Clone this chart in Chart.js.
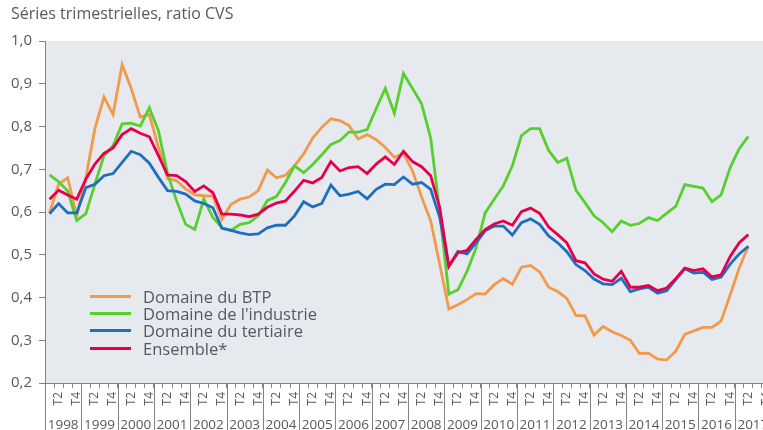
<!DOCTYPE html>
<html>
<head>
<meta charset="utf-8">
<script src="https://cdn.jsdelivr.net/npm/chart.js@4/dist/chart.umd.min.js"></script>
<style>
  html, body { margin: 0; padding: 0; background: #fff; overflow: hidden; }
  #wrap { position: relative; width: 763px; height: 430px; overflow: hidden; }
  #legend { position: absolute; left: 90px; top: 288px; font: 16.5px 'Open Sans', sans-serif; color: #555a60; }
  #legend .row { display: flex; align-items: center; height: 17.2px; }
  #legend .sw { width: 41px; height: 3px; margin-right: 12px; }
</style>
</head>
<body>
<div id="wrap">
  <canvas id="chart" width="771" height="430"></canvas>
  <div id="legend"></div>
</div>
<script>
const years = ['1998', '1999', '2000', '2001', '2002', '2003', '2004', '2005', '2006', '2007',
  '2008', '2009', '2010', '2011', '2012', '2013', '2014', '2015', '2016', '2017'];
const quarters = ['T1', 'T2', 'T3', 'T4'];

// 1998 T1 -> 2017 T2
const btp = [0.598, 0.665, 0.680, 0.590, 0.680, 0.795, 0.869, 0.828, 0.945, 0.889,
  0.822, 0.828, 0.751, 0.678, 0.673, 0.654, 0.640, 0.638, 0.637, 0.583,
  0.618, 0.630, 0.635, 0.650, 0.698, 0.680, 0.686, 0.708, 0.736, 0.773,
  0.798, 0.818, 0.814, 0.802, 0.771, 0.781, 0.769, 0.751, 0.728, 0.737,
  0.696, 0.635, 0.579, 0.477, 0.373, 0.383, 0.395, 0.409, 0.408, 0.430,
  0.444, 0.431, 0.471, 0.475, 0.460, 0.424, 0.414, 0.398, 0.358, 0.357,
  0.312, 0.332, 0.320, 0.311, 0.300, 0.269, 0.270, 0.256, 0.254, 0.274,
  0.314, 0.322, 0.330, 0.330, 0.345, 0.406, 0.469, 0.520];
const industrie = [0.687, 0.671, 0.649, 0.580, 0.596, 0.665, 0.732, 0.755, 0.806, 0.808,
  0.801, 0.844, 0.790, 0.690, 0.626, 0.571, 0.559, 0.630, 0.587, 0.563,
  0.557, 0.571, 0.575, 0.591, 0.627, 0.636, 0.669, 0.708, 0.692, 0.711,
  0.734, 0.758, 0.767, 0.787, 0.787, 0.793, 0.842, 0.889, 0.831, 0.924,
  0.889, 0.853, 0.773, 0.600, 0.408, 0.418, 0.461, 0.516, 0.598, 0.630,
  0.661, 0.708, 0.779, 0.795, 0.795, 0.744, 0.716, 0.726, 0.651, 0.622,
  0.591, 0.575, 0.554, 0.579, 0.569, 0.573, 0.587, 0.580, 0.597, 0.613,
  0.664, 0.660, 0.656, 0.624, 0.640, 0.704, 0.748, 0.777];
const tertiaire = [0.596, 0.620, 0.598, 0.598, 0.657, 0.665, 0.685, 0.690, 0.716, 0.742,
  0.734, 0.714, 0.681, 0.650, 0.648, 0.642, 0.626, 0.620, 0.610, 0.562,
  0.557, 0.551, 0.547, 0.549, 0.563, 0.569, 0.569, 0.591, 0.624, 0.612,
  0.620, 0.663, 0.638, 0.642, 0.648, 0.631, 0.653, 0.665, 0.664, 0.682,
  0.665, 0.669, 0.653, 0.587, 0.473, 0.508, 0.502, 0.528, 0.556, 0.567,
  0.567, 0.546, 0.575, 0.584, 0.571, 0.544, 0.528, 0.507, 0.477, 0.463,
  0.443, 0.432, 0.430, 0.445, 0.414, 0.420, 0.424, 0.410, 0.416, 0.442,
  0.467, 0.457, 0.459, 0.442, 0.448, 0.478, 0.502, 0.520];
const ensemble = [0.630, 0.651, 0.640, 0.630, 0.677, 0.712, 0.737, 0.750, 0.781, 0.795,
  0.784, 0.776, 0.732, 0.687, 0.685, 0.671, 0.648, 0.661, 0.645, 0.595,
  0.595, 0.593, 0.589, 0.595, 0.611, 0.621, 0.626, 0.649, 0.674, 0.668,
  0.681, 0.718, 0.696, 0.704, 0.706, 0.690, 0.712, 0.729, 0.711, 0.742,
  0.718, 0.706, 0.685, 0.610, 0.473, 0.505, 0.510, 0.536, 0.559, 0.572,
  0.579, 0.569, 0.601, 0.609, 0.597, 0.565, 0.547, 0.528, 0.486, 0.481,
  0.455, 0.443, 0.438, 0.461, 0.424, 0.424, 0.428, 0.416, 0.422, 0.444,
  0.469, 0.463, 0.467, 0.448, 0.453, 0.496, 0.528, 0.547];

const yTicks = [0.2, 0.3, 0.4, 0.5, 0.6, 0.7, 0.8, 0.9, 1.0];

const labels = years.flatMap(y => quarters.map(q => y + ' ' + q));
const axisColor = '#7d838a';
const textColor = '#555a60';
const font = 'Open Sans';

// fond gris de la zone de tracé + séparateurs des années sous l'axe
const plotFrame = {
    id: 'plotFrame',
    beforeDraw(chart) {
        const { ctx, chartArea: a } = chart;
        ctx.save();
        ctx.fillStyle = '#e6e9ee';
        ctx.fillRect(a.left, a.top, a.right - a.left, a.bottom - a.top);
        ctx.restore();
    },
    afterDraw(chart) {
        const { ctx, chartArea: a } = chart;
        const ys = chart.scales.years;
        ctx.save();
        ctx.strokeStyle = axisColor;
        ctx.lineWidth = 1;
        for (let k = 0; k <= years.length; k++) {
            const x = Math.round(ys.getPixelForValue(k - 0.5)) + 0.5;
            ctx.beginPath();
            ctx.moveTo(x, a.bottom);
            ctx.lineTo(x, chart.height);
            ctx.stroke();
        }
        ctx.restore();
    }
};

const series = [
    { label: 'Domaine du BTP', data: btp, color: '#f29a4c', order: 4 },
    { label: "Domaine de l'industrie", data: industrie, color: '#57cf2f', order: 3 },
    { label: 'Domaine du tertiaire', data: tertiaire, color: '#1f6ec0', order: 2 },
    { label: 'Ensemble*', data: ensemble, color: '#e6004c', order: 1 }
];

const chart = new Chart(document.getElementById('chart'), {
    type: 'line',
    data: {
        labels: labels,
        datasets: series.map(s => ({
            label: s.label,
            data: s.data,
            borderColor: s.color,
            backgroundColor: s.color,
            borderWidth: 2.8,
            pointRadius: 0,
            tension: 0,
            fill: false,
            order: s.order
        }))
    },
    plugins: [plotFrame],
    options: {
        responsive: false,
        animation: false,
        layout: { padding: { left: 11, right: 0, top: 0, bottom: 0 } },
        scales: {
            x: {
                type: 'category',
                position: 'bottom',
                offset: true,
                weight: 0,
                grid: { drawOnChartArea: false, drawTicks: true, tickLength: 5, offset: true, color: axisColor },
                border: { display: true, color: axisColor },
                ticks: {
                    autoSkip: false, minRotation: 90, maxRotation: 90, padding: 4,
                    color: textColor, font: { family: font, size: 12 },
                    callback: (v, i) => (i % 4 === 1 ? 'T2' : i % 4 === 3 ? 'T4' : '')
                },
                afterFit: s => { s.paddingLeft = 0; s.paddingRight = 0; s.height = 30; }
            },
            years: {
                type: 'category',
                axis: 'x',
                labels: years,
                position: 'bottom',
                offset: true,
                weight: 1,
                grid: { display: false, drawTicks: false },
                border: { display: false },
                ticks: {
                    autoSkip: false, maxRotation: 0, padding: 4.5,
                    color: textColor, font: { family: font, size: 13.5 }
                },
                afterFit: s => { s.paddingLeft = 0; s.paddingRight = 0; s.height = 17; }
            },
            y: {
                min: 0.2,
                max: 1.0,
                grid: { drawOnChartArea: false, tickLength: 6, color: axisColor },
                border: { display: true, color: axisColor },
                afterBuildTicks: s => { s.ticks = yTicks.map(v => ({ value: v })); },
                ticks: {
                    padding: 7, color: textColor, font: { family: font, size: 15 },
                    callback: v => v.toFixed(1).replace('.', ',')
                },
                afterFit: s => { s.width = 34; }
            }
        },
        plugins: {
            legend: { display: false },
            tooltip: { enabled: false },
            title: {
                display: true,
                text: 'Séries trimestrielles, ratio CVS',
                align: 'start',
                color: textColor,
                font: { family: font, size: 16, weight: 'normal' },
                padding: { top: 5, bottom: 16.8 }
            }
        }
    }
});

// légende HTML, construite depuis les datasets
const legend = document.getElementById('legend');
chart.data.datasets.forEach(ds => {
    const row = document.createElement('div');
    row.className = 'row';
    const sw = document.createElement('span');
    sw.className = 'sw';
    sw.style.background = ds.borderColor;
    const txt = document.createElement('span');
    txt.textContent = ds.label;
    row.appendChild(sw);
    row.appendChild(txt);
    legend.appendChild(row);
});
</script>
</body>
</html>
